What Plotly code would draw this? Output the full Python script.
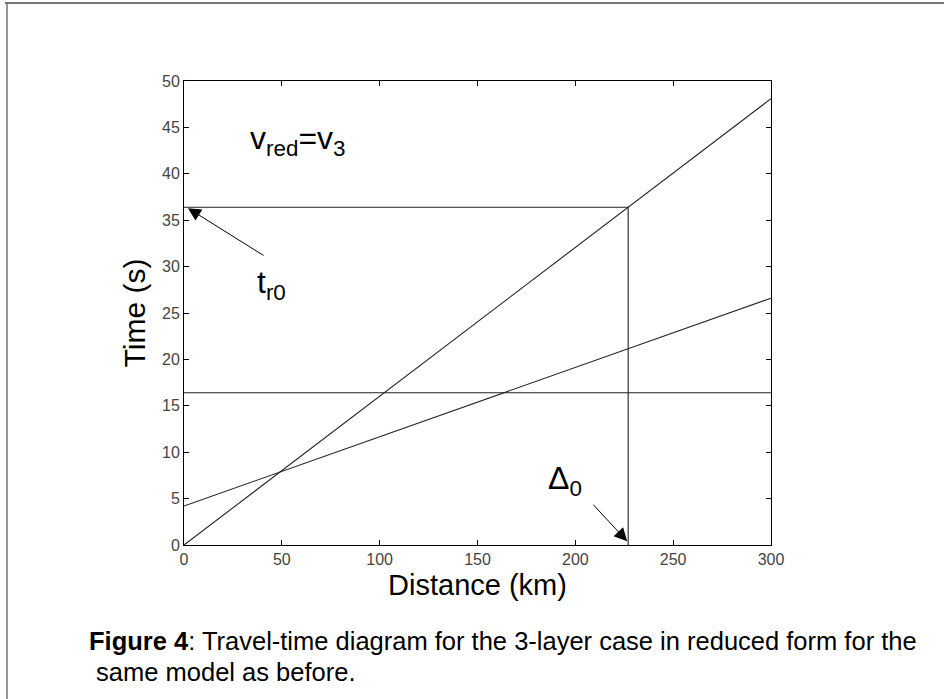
import plotly.graph_objects as go

# data
dist_steep = [0, 300]
time_steep = [0.0, 48.1]
dist_shallow = [0, 300]
time_shallow = [4.2, 26.6]
dist_flat = [0, 300]
time_flat = [16.4, 16.4]
dist_box = [0, 227, 227]
time_box = [36.4, 36.4, 0]
x_ticks = [0, 50, 100, 150, 200, 250, 300]
y_ticks = [0, 5, 10, 15, 20, 25, 30, 35, 40, 45, 50]

W, H = 944, 699
L, R, T, B = 184, 771, 81, 545

fig = go.Figure()
line = dict(color="#222222", width=1.1)
for xs, ys in [(dist_steep, time_steep), (dist_shallow, time_shallow),
               (dist_flat, time_flat), (dist_box, time_box)]:
    fig.add_trace(go.Scatter(x=xs, y=ys, mode="lines", line=line,
                             showlegend=False, hoverinfo="skip"))

tickfont = dict(family="Liberation Sans, Arial", size=16, color="#444444")
axis_common = dict(showline=True, linecolor="black", linewidth=1, mirror="ticks",
                   ticks="inside", ticklen=5, tickcolor="black", showgrid=False,
                   zeroline=False, tickfont=tickfont)
fig.update_xaxes(range=[0, 300], tickvals=x_ticks, **axis_common,
                 title=dict(text="Distance (km)", standoff=7,
                            font=dict(family="Liberation Sans, Arial", size=29, color="black")))
fig.update_yaxes(range=[0, 50], tickvals=y_ticks, **axis_common,
                 title=dict(text="Time (s)", standoff=7,
                            font=dict(family="Liberation Sans, Arial", size=30, color="black")))

def px2x(px):
    return (px - L) / (R - L)

def py2y(py):
    return (B - py) / (B - T)

ann_font = dict(family="Liberation Sans, Arial", size=32, color="black")
fig.add_annotation(x=px2x(248), y=py2y(140), xref="paper", yref="paper",
                   xanchor="left", yanchor="middle",
                   text="v<sub>red</sub>=v<sub>3</sub>", showarrow=False, font=ann_font)
fig.add_annotation(x=px2x(255), y=py2y(284), xref="paper", yref="paper",
                   xanchor="left", yanchor="middle",
                   text="t<sub>r0</sub>", showarrow=False, font=ann_font)
fig.add_annotation(x=px2x(546), y=py2y(480), xref="paper", yref="paper",
                   xanchor="left", yanchor="middle",
                   text="Δ<sub>0</sub>", showarrow=False, font=ann_font)

# arrows
fig.add_annotation(x=2, y=36.3, ax=41.4, ay=31.1, xref="x", yref="y",
                   axref="x", ayref="y", text="", showarrow=True,
                   arrowhead=2, arrowsize=2.6, arrowwidth=1, arrowcolor="black")
fig.add_annotation(x=226.5, y=0.4, ax=208.5, ay=4.5, xref="x", yref="y",
                   axref="x", ayref="y", text="", showarrow=True,
                   arrowhead=2, arrowsize=2.6, arrowwidth=1, arrowcolor="black")

# caption
cap_font = dict(family="Liberation Sans, Arial", size=25.5, color="black")
fig.add_annotation(x=px2x(87), y=py2y(641), xref="paper", yref="paper",
                   xanchor="left", yanchor="middle",
                   text="<b>Figure 4</b>: Travel-time diagram for the 3-layer case in reduced form for the",
                   showarrow=False, font=cap_font)
fig.add_annotation(x=px2x(87), y=py2y(672), xref="paper", yref="paper",
                   xanchor="left", yanchor="middle",
                   text=" same model as before.", showarrow=False, font=cap_font)

# outer frame
fig.add_shape(type="line", xref="paper", yref="paper", x0=px2x(5), x1=px2x(944),
              y0=py2y(3), y1=py2y(3), line=dict(color="#777777", width=2))
fig.add_shape(type="line", xref="paper", yref="paper", x0=px2x(7), x1=px2x(7),
              y0=py2y(3), y1=py2y(699), line=dict(color="#777777", width=1.5))

fig.update_layout(width=W, height=H, margin=dict(l=L, r=W - R, t=T, b=H - B),
                  plot_bgcolor="white", paper_bgcolor="white")
fig.write_html("out.html")
